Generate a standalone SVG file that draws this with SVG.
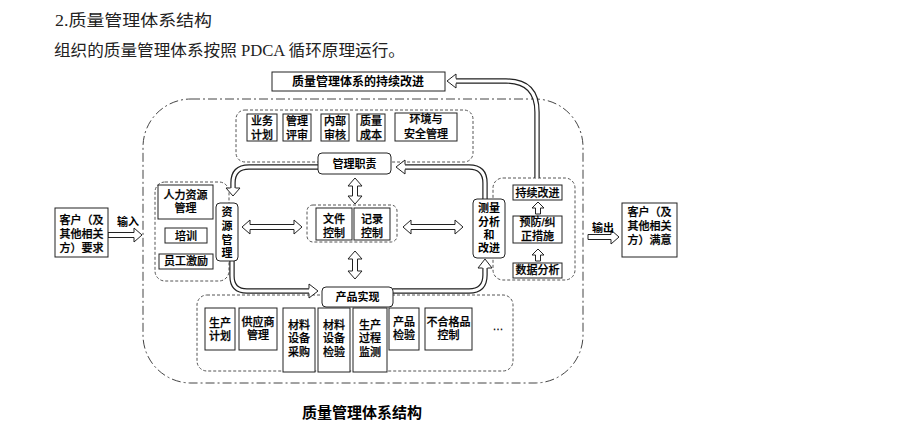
<svg xmlns="http://www.w3.org/2000/svg" width="900" height="446" viewBox="0 0 900 446">
<style>
.hd{font-family:"Liberation Serif","Noto Sans CJK SC",serif;font-size:16px;fill:#222}
.t{font-family:"Liberation Sans","Noto Sans CJK SC",sans-serif;font-size:11px;fill:#000;text-anchor:middle;font-weight:500;stroke:#000;stroke-width:0.25}
.tb{font-weight:bold;stroke:none}
.b{fill:#fff;stroke:#222;stroke-width:1}
.d{fill:none;stroke:#555;stroke-width:1;stroke-dasharray:3 2}
.fr{fill:none;stroke:#444;stroke-width:1;stroke-dasharray:9 3 2 3}
.to{fill:none;stroke:#222;stroke-width:5.4}
.ti{fill:none;stroke:#fff;stroke-width:3}
.ah{fill:#fff;stroke:#222;stroke-width:1;stroke-linejoin:miter}
</style>
<rect width="900" height="446" fill="#fff"/>
<g id="header">
<text class="hd" x="55" y="26" textLength="157" lengthAdjust="spacingAndGlyphs">2.质量管理体系结构</text>
<text class="hd" x="54" y="56" textLength="351" lengthAdjust="spacingAndGlyphs">组织的质量管理体系按照 PDCA 循环原理运行。</text>
</g>
<g id="frame">
<rect class="fr" x="143" y="99" width="440" height="284" rx="48"/>
<rect class="d" x="236" y="110" width="237" height="52" rx="9"/>
<rect class="d" x="155" y="182" width="74" height="99" rx="10"/>
<rect class="d" x="307" y="205" width="90" height="37" rx="6"/>
<rect class="d" x="493" y="178" width="82" height="102" rx="10"/>
<rect class="d" x="197" y="295" width="316" height="76" rx="10"/>
</g>
<g id="connectors">
<path class="to" d="M537,178 V112 Q537,81 506,81 H456"/><path class="ti" d="M537,178 V112 Q537,81 506,81 H456"/>
<path class="ah" d="M456,78.5 V74 L447,81 L456,88 V83.5"/>
<path class="to" d="M318,167 H249 Q233,167 233,183 V188"/><path class="ti" d="M318,167 H249 Q233,167 233,183 V188"/>
<path class="ah" d="M230.5,188 H226 L233,196 L240,188 H235.5"/>
<path class="to" d="M232,261 V276 Q232,291 247,291 H309"/><path class="ti" d="M232,261 V276 Q232,291 247,291 H309"/>
<path class="ah" d="M309,288.5 V284 L318,291 L309,298 V293.5"/>
<path class="to" d="M393,291 H469 Q485,291 485,275 V268"/><path class="ti" d="M393,291 H469 Q485,291 485,275 V268"/>
<path class="ah" d="M482.5,268 H478 L485,259 L492,268 H487.5"/>
<path class="to" d="M485,199 V183 Q485,167 469,167 H405"/><path class="ti" d="M485,199 V183 Q485,167 469,167 H405"/>
<path class="ah" d="M405,164.5 V160 L396,167 L405,174 V169.5"/>
<polygon class="ah" points="108,232.5 134,232.5 134,228 142,235 134,242 134,237.5 108,237.5"/>
<polygon class="ah" points="588,234.5 611,234.5 611,230 619,237 611,244 611,239.5 588,239.5"/>
<polygon class="ah" points="242,227 250,220 250,224.5 294,224.5 294,220 302,227 294,234 294,229.5 250,229.5 250,234"/>
<polygon class="ah" points="403,227 411,220 411,224.5 455,224.5 455,220 463,227 455,234 455,229.5 411,229.5 411,234"/>
<polygon class="ah" points="355,178 362,186 357.5,186 357.5,196 362,196 355,204 348,196 352.5,196 352.5,186 348,186"/>
<polygon class="ah" points="355,251 362,259 357.5,259 357.5,271 362,271 355,279 348,271 352.5,271 352.5,259 348,259"/>
<polygon class="ah" points="535.5,214 535.5,208 532,208 538,202 544,208 540.5,208 540.5,214"/>
<polygon class="ah" points="535.5,261 535.5,255 532,255 538,249 544,255 540.5,255 540.5,261"/>
<text class="t tb" x="128" y="226">输入</text>
<text class="t tb" x="603" y="232">输出</text>
</g>
<g id="n-improve"><rect class="b" x="272" y="72" width="173" height="19"/><text class="t tb" x="358" y="86" style="font-size:12px">质量管理体系的持续改进</text></g>
<g id="n-plan"><rect class="b" x="247" y="114" width="30" height="27"/><text class="t" x="262" y="125">业务</text><text class="t" x="262" y="139">计划</text></g>
<g id="n-review"><rect class="b" x="283" y="114" width="28" height="27"/><text class="t" x="297" y="125">管理</text><text class="t" x="297" y="139">评审</text></g>
<g id="n-audit"><rect class="b" x="321" y="114" width="28" height="27"/><text class="t" x="335" y="125">内部</text><text class="t" x="335" y="139">审核</text></g>
<g id="n-cost"><rect class="b" x="357" y="114" width="28" height="27"/><text class="t" x="371" y="125">质量</text><text class="t" x="371" y="139">成本</text></g>
<g id="n-env"><rect class="b" x="395" y="113" width="62" height="28"/><text class="t" x="426" y="123">环境与</text><text class="t" x="426" y="138">安全管理</text></g>
<g id="n-mgmt"><rect class="b" x="318" y="153" width="73" height="21" rx="4"/><text class="t tb" x="354.5" y="167.5">管理职责</text></g>
<g id="n-hr"><rect class="b" x="158" y="185" width="55" height="34"/><text class="t" x="185.5" y="199">人力资源</text><text class="t" x="185.5" y="212">管理</text></g>
<g id="n-train"><rect class="b" x="165" y="228" width="42" height="15"/><text class="t" x="186" y="240">培训</text></g>
<g id="n-motiv"><rect class="b" x="159" y="254" width="54" height="15"/><text class="t" x="186" y="265">员工激励</text></g>
<g id="n-res"><rect class="b" x="216" y="203" width="22" height="58" rx="4"/><text class="t tb" x="227" y="216">资</text><text class="t tb" x="227" y="230">源</text><text class="t tb" x="227" y="244">管</text><text class="t tb" x="227" y="257">理</text></g>
<g id="n-doc"><rect class="b" x="316" y="208" width="36" height="32"/><text class="t" x="334" y="223">文件</text><text class="t" x="334" y="237">控制</text></g>
<g id="n-rec"><rect class="b" x="354" y="208" width="36" height="32"/><text class="t" x="372" y="223">记录</text><text class="t" x="372" y="237">控制</text></g>
<g id="n-meas"><rect class="b" x="473" y="199" width="32" height="59" rx="4"/><text class="t tb" x="489" y="212">测量</text><text class="t tb" x="489" y="226">分析</text><text class="t tb" x="489" y="239">和</text><text class="t tb" x="489" y="252">改进</text></g>
<g id="n-ci"><rect class="b" x="513" y="185" width="49" height="15"/><text class="t" x="537.5" y="197">持续改进</text></g>
<g id="n-capa"><rect class="b" x="513" y="216" width="49" height="27"/><text class="t" x="537.5" y="226">预防/纠</text><text class="t" x="537.5" y="240">正措施</text></g>
<g id="n-data"><rect class="b" x="513" y="263" width="49" height="15"/><text class="t" x="537.5" y="274">数据分析</text></g>
<g id="n-cin"><rect class="b" x="55" y="208" width="53" height="49"/><text class="t" x="81.5" y="224">客户（及</text><text class="t" x="81.5" y="238">其他相关</text><text class="t" x="81.5" y="252">方）要求</text></g>
<g id="n-cout"><rect class="b" x="622" y="203" width="55" height="54"/><text class="t" x="649.5" y="216">客户（及</text><text class="t" x="649.5" y="230">其他相关</text><text class="t" x="649.5" y="244">方）满意</text></g>
<g id="n-prod"><rect class="b" x="322" y="287" width="71" height="20" rx="4"/><text class="t tb" x="357.5" y="301">产品实现</text></g>
<g id="n-pp"><rect class="b" x="205" y="308" width="30" height="42"/><text class="t" x="220" y="327">生产</text><text class="t" x="220" y="340">计划</text></g>
<g id="n-sup"><rect class="b" x="239" y="308" width="38" height="42"/><text class="t" x="258" y="326">供应商</text><text class="t" x="258" y="339">管理</text></g>
<g id="n-purch"><rect class="b" x="283" y="308" width="32" height="64"/><text class="t" x="299" y="329">材料</text><text class="t" x="299" y="342">设备</text><text class="t" x="299" y="356">采购</text></g>
<g id="n-insp"><rect class="b" x="318" y="308" width="32" height="64"/><text class="t" x="334" y="329">材料</text><text class="t" x="334" y="342">设备</text><text class="t" x="334" y="356">检验</text></g>
<g id="n-proc"><rect class="b" x="353" y="308" width="34" height="64"/><text class="t" x="370" y="329">生产</text><text class="t" x="370" y="342">过程</text><text class="t" x="370" y="356">监测</text></g>
<g id="n-pi"><rect class="b" x="389" y="308" width="30" height="42"/><text class="t" x="404" y="326">产品</text><text class="t" x="404" y="339">检验</text></g>
<g id="n-nc"><rect class="b" x="425" y="308" width="47" height="42"/><text class="t" x="448.5" y="326">不合格品</text><text class="t" x="448.5" y="339">控制</text></g>
<g id="n-more"><text class="t" x="498" y="330">…</text></g>
<g id="caption"><text class="t tb" x="362" y="418" style="font-size:15px">质量管理体系结构</text></g>
</svg>
